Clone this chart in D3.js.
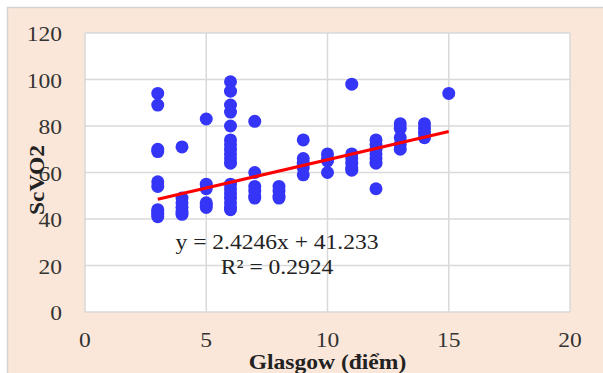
<!DOCTYPE html>
<html>
<head>
<meta charset="utf-8">
<script src="https://cdn.jsdelivr.net/npm/d3@7"></script>
<style>
  body { margin: 0; background: #fff; }
  text { font-family: "Liberation Serif", "Times New Roman", serif; }
</style>
</head>
<body>
<svg id="chart"></svg>
<script>
// data
const glasgowScores = [3, 4, 5, 6, 7, 8, 9, 10, 11, 12, 13, 14, 15];
const scvo2ByScore = [
  [94, 89, 70, 69, 56, 54, 44, 43, 42, 41],
  [71, 49, 47, 45, 43, 42],
  [83, 55, 53, 47, 46, 45],
  [99, 95, 89, 86, 80, 74, 72, 70, 68, 66, 64, 55, 53, 51, 49, 47, 45, 44],
  [82, 60, 54, 52, 50, 49],
  [54, 52, 50, 49],
  [74, 66, 64, 62, 59],
  [68, 66, 65, 60],
  [98, 68, 66, 64, 62, 61],
  [74, 72, 70, 68, 66, 64, 53],
  [81, 79, 75, 72, 70],
  [81, 79, 77, 75],
  [94]
];
const trendSlope = 2.4246;
const trendIntercept = 41.233;
const trendRange = [3, 15];
const xTicks = [0, 5, 10, 15, 20];
const yTicks = [0, 20, 40, 60, 80, 100, 120];
const equationLines = ["y = 2.4246x + 41.233", "R² = 0.2924"];

const width = 603, height = 373;
const margin = { left: 85, right: 33, top: 33, bottom: 61 };
const stretch = 1.07; // text in the picture is a bit wide

const svg = d3.select("#chart")
  .attr("width", width)
  .attr("height", height);

// outer frame
svg.append("rect")
  .attr("x", 7.5).attr("y", 7.5)
  .attr("width", 700).attr("height", 500)
  .attr("fill", "#fbe7d9")
  .attr("stroke", "#d4d4d4")
  .attr("stroke-width", 1.5);

const x = d3.scaleLinear().domain([0, 20]).range([margin.left, width - margin.right]);
const y = d3.scaleLinear().domain([0, 120]).range([height - margin.bottom, margin.top]);

// plot area
svg.append("rect")
  .attr("x", x(0)).attr("y", y(120))
  .attr("width", x(20) - x(0)).attr("height", y(0) - y(120))
  .attr("fill", "#fff");

// gridlines
svg.append("g").selectAll("line")
  .data(yTicks).join("line")
  .attr("x1", x(0)).attr("x2", x(20))
  .attr("y1", d => y(d)).attr("y2", d => y(d))
  .attr("stroke", "#d9d9d9").attr("stroke-width", 1.5);

svg.append("g").selectAll("line")
  .data(xTicks).join("line")
  .attr("y1", y(0)).attr("y2", y(120))
  .attr("x1", d => x(d)).attr("x2", d => x(d))
  .attr("stroke", "#d9d9d9").attr("stroke-width", 1.5);

const place = (px, py) => `translate(${px},${py}) scale(${stretch},1)`;

// tick labels
svg.append("g").selectAll("text")
  .data(yTicks).join("text")
  .attr("transform", d => place(62, y(d) + 8))
  .attr("text-anchor", "end")
  .attr("font-size", 22)
  .attr("fill", "#333")
  .text(d => d);

svg.append("g").selectAll("text")
  .data(xTicks).join("text")
  .attr("transform", d => place(x(d), 347))
  .attr("text-anchor", "middle")
  .attr("font-size", 22)
  .attr("fill", "#333")
  .text(d => d);

// points
const points = glasgowScores.flatMap((g, i) => scvo2ByScore[i].map(v => [g, v]));
svg.append("g").selectAll("circle")
  .data(points).join("circle")
  .attr("cx", d => x(d[0]))
  .attr("cy", d => y(d[1]))
  .attr("r", 6.5)
  .attr("fill", "#3535f7");

// trendline
const line = d3.line()
  .x(d => x(d))
  .y(d => y(trendSlope * d + trendIntercept));
svg.append("path")
  .datum(trendRange)
  .attr("d", line)
  .attr("fill", "none")
  .attr("stroke", "#ff0000")
  .attr("stroke-width", 3);

// equation
svg.append("g").selectAll("text")
  .data(equationLines).join("text")
  .attr("transform", (d, i) => place(277, 249 + i * 25))
  .attr("text-anchor", "middle")
  .attr("font-size", 22)
  .attr("fill", "#222")
  .text(d => d);

// axis titles
svg.append("text")
  .attr("transform", place((x(0) + x(20)) / 2, 369))
  .attr("text-anchor", "middle")
  .attr("font-size", 22)
  .attr("font-weight", "bold")
  .attr("fill", "#222")
  .text("Glasgow (điểm)");

svg.append("text")
  .attr("transform", `translate(44, 180) rotate(-90) scale(${stretch},1)`)
  .attr("text-anchor", "middle")
  .attr("font-size", 22)
  .attr("font-weight", "bold")
  .attr("fill", "#222")
  .text("ScVO2");
</script>
</body>
</html>
